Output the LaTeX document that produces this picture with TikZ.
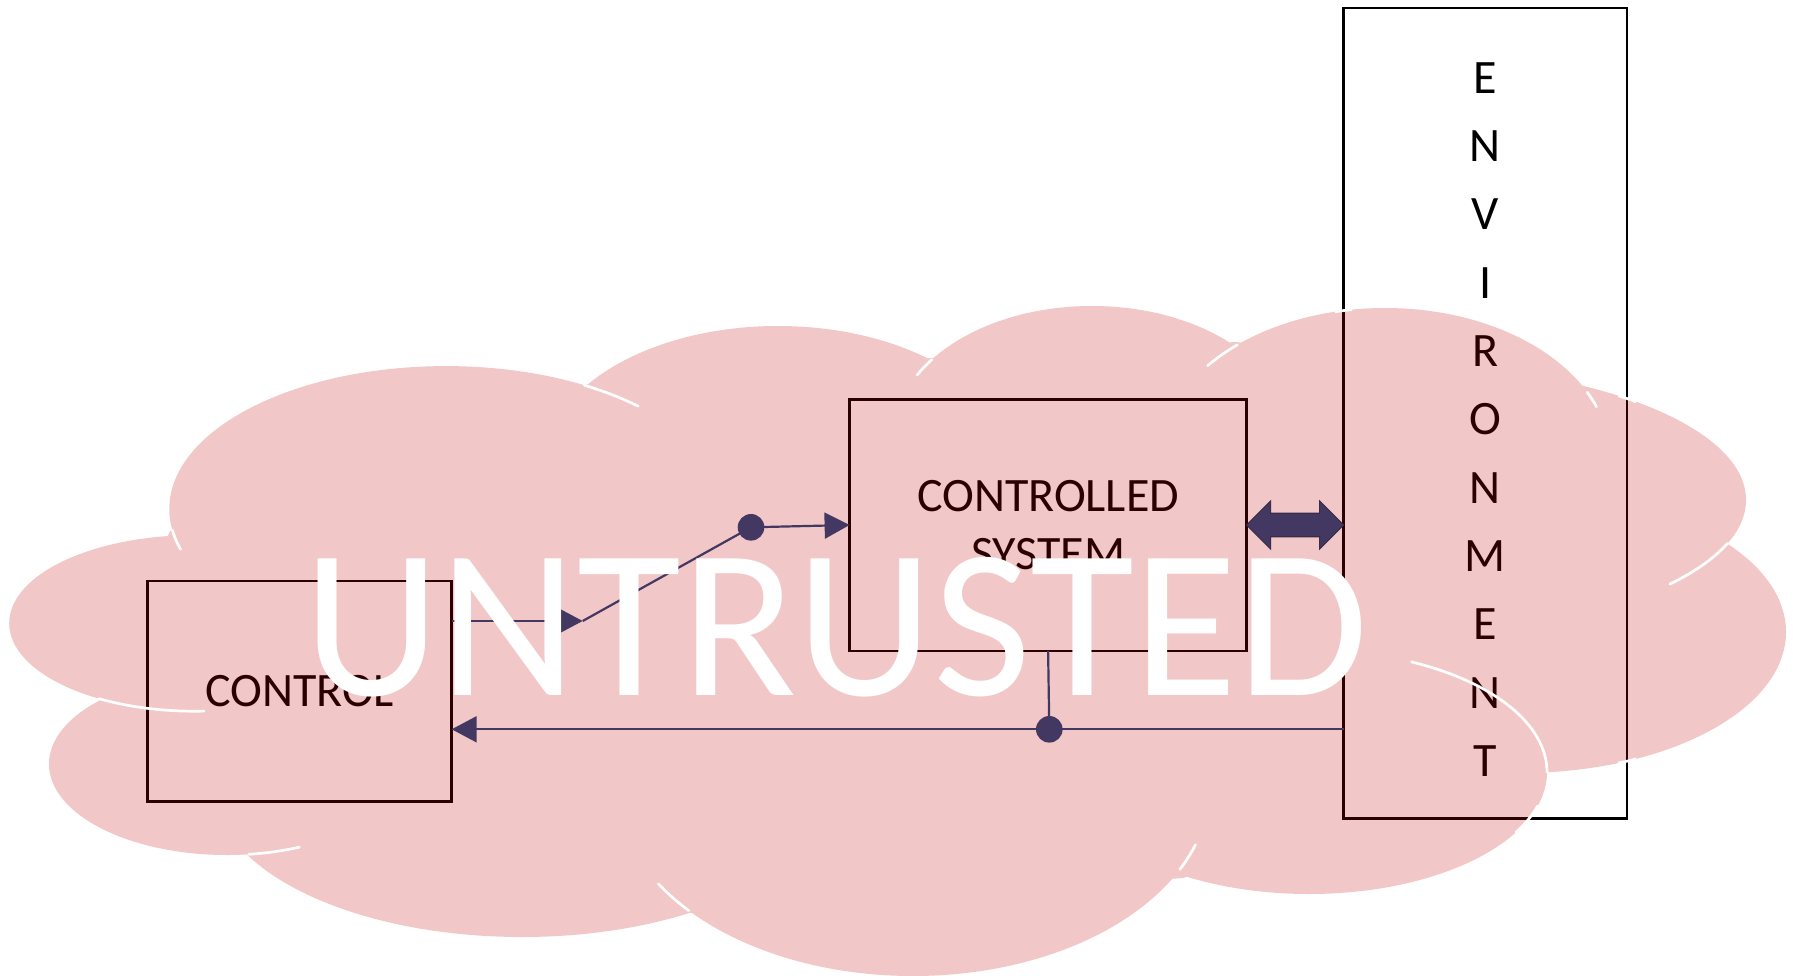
\documentclass[tikz,border=0pt]{standalone}
\usepackage{fontspec}
\setmainfont{Carlito}
\usetikzlibrary{arrows.meta,calc}

\definecolor{cloudred}{HTML}{C00000}
\definecolor{linkblue}{HTML}{1F497D}
\definecolor{linkedge}{HTML}{17375E}

% white inner arc of one cloud lobe: cx, cy, rx, ry, start, end
\newcommand{\lobearc}[6]{%
  \draw[rim] ({#1+#3*cos(#5)},{#2+#4*sin(#5)})
    arc[start angle=#5, end angle=#6, x radius=#3, y radius=#4];}
% white rim of a lobe, kept only inside a small window: cx, cy, rx, ry, window corners
\newcommand{\lobeedge}[6]{%
  \begin{scope}
    \clip #5 rectangle #6;
    \draw[rim] (#1,#2) ellipse [x radius=#3, y radius=#4];
  \end{scope}}

\begin{document}
\begin{tikzpicture}[x=1pt, y=-1pt,
  framebox/.style={draw=black, line width=2.7pt, inner sep=0pt, outer sep=0pt},
  lbl/.style={font={\fontsize{48}{58.3}\selectfont}, text=black, align=center},
  conn/.style={draw=linkblue, line width=2.2pt},
  arrowed/.style={-{Triangle[length=25pt, width=26pt]}},
  junction/.style={circle, fill=linkblue, minimum size=26.6pt, inner sep=0pt, outer sep=0pt},
  rim/.style={draw=white, line width=2.7pt, line cap=round},
]
\useasboundingbox (0,0) rectangle (1793,976);

% blocks
\node[framebox, lbl, minimum width=304.2pt, minimum height=220.6pt] (ctrl) at (299.6,691.3) {CONTROL};
\node[framebox, lbl, minimum width=397pt, minimum height=251.7pt] (sys) at (1048.1,525) {CONTROLLED\\SYSTEM};
\node[framebox, minimum width=283.4pt, minimum height=810.7pt] (env) at (1485.3,413.4) {};
\node[font={\fontsize{48}{68.3}\selectfont}, text=black, align=center, inner sep=0pt]
  (envtext) at ([yshift=-6pt]env.center) {E\\N\\V\\I\\R\\O\\N\\M\\E\\N\\T};

% signal paths
\coordinate (bend) at (582.7,621);
\coordinate (envport) at (env.west |- sys.east);
\node[junction] (j1) at (751,527.3) {};
\node[junction] (j2) at (1049.3,729.3) {};
\draw[conn, arrowed] (ctrl.east |- bend) -- (bend);
\draw[conn] (bend) -- (j1.center);
\draw[conn, arrowed] (j1.center) -- (sys.west);
\draw[conn, arrowed] (env.west |- j2) -- (ctrl.east |- j2);
\draw[conn] (sys.south) -- (j2.center);

% two-way exchange with the environment
\filldraw[fill=linkblue, draw=linkedge, line width=1.2pt, line join=miter]
  (sys.east) -- ++(24,-24) -- ++(0,12.3) -- ($(envport)+(-24,-11.7)$) -- ++(0,-12.3)
  -- (envport) -- ++(-24,24) -- ++(0,-12.3) -- ($(sys.east)+(24,11.7)$) -- ++(0,12.3) -- cycle;

% translucent cloud: core polygon through the lobe junctions plus the lobes
\fill[cloudred, fill opacity=0.22]
  (170,531) -- (588,384) -- (932,358) -- (1236,342) -- (1588,393) -- (1727,543)
  -- (1547,772) -- (1183,878) -- (689,913) -- (248,853) -- (99,699) -- cycle
  (194.4,623.2) ellipse [x radius=185.2, y radius=88]
  (446,509)     ellipse [x radius=276.7, y radius=142.9]
  (778,466)     ellipse [x radius=234, y radius=140]
  (1092,436)    ellipse [x radius=198, y radius=130]
  (1385,458)    ellipse [x radius=225, y radius=150]
  (1396,500)    ellipse [x radius=350, y radius=135]
  (1520,632)    ellipse [x radius=266, y radius=141]
  (1309,772)    ellipse [x radius=238, y radius=122]
  (913,786)     ellipse [x radius=297, y radius=190]
  (522,787)     ellipse [x radius=308, y radius=150]
  (227,764)     ellipse [x radius=178, y radius=91];

% cloud rim where it crosses the environment frame
\lobeedge{1385}{458}{225}{150}{(1335,295)}{(1352,325)}
\lobeedge{1396}{500}{350}{135}{(1618,385)}{(1636,415)}
\lobeedge{1520}{632}{266}{141}{(1618,745)}{(1636,775)}
\lobeedge{1309}{772}{238}{122}{(1515,805)}{(1545,832)}

% inner lobe arcs
\lobearc{194.4}{623.2}{185.2}{88}{87}{121}
\lobearc{446}{509}{276.7}{142.9}{163.6}{171.5}
\lobearc{446}{509}{276.7}{142.9}{-60}{-46}
\lobearc{1092}{436}{198}{130}{208}{216}
\lobearc{1385}{458}{225}{150}{218}{229}
\lobearc{1385}{458}{225}{150}{-26}{-20}
\lobearc{1396}{500}{350}{135}{18.7}{38.5}
\lobearc{1309}{772}{238}{122}{-64.5}{0}
\lobearc{913}{786}{297}{190}{18}{26}
\lobearc{913}{786}{297}{190}{139}{149}
\lobearc{227}{764}{178}{91}{66}{83}

% cloud caption
\node[text=white, font={\fontsize{213}{213}\selectfont}, inner sep=0pt] (untrusted) at (836,627) {UNTRUSTED};
\end{tikzpicture}
\end{document}
